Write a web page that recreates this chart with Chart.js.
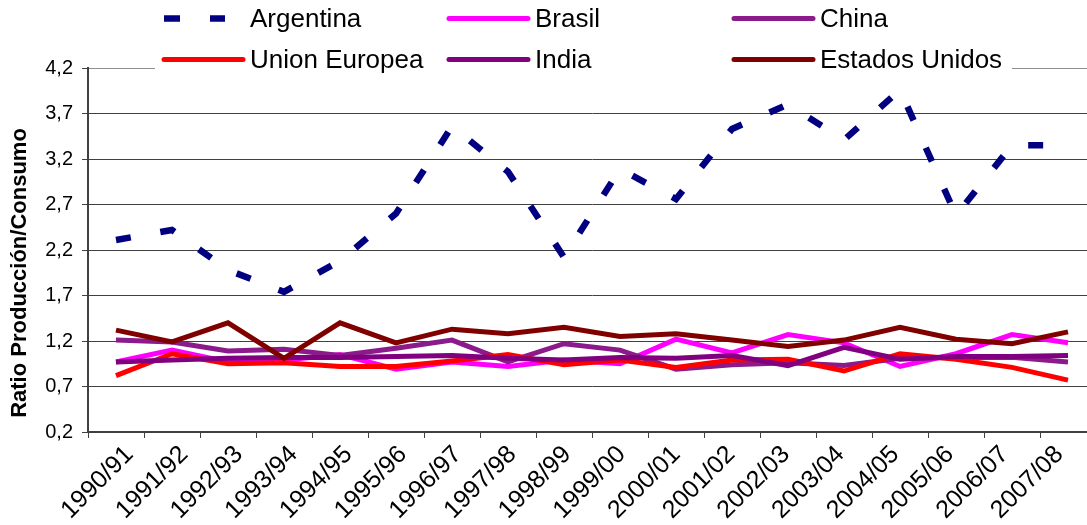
<!DOCTYPE html>
<html>
<head>
<meta charset="utf-8">
<script src="https://cdn.jsdelivr.net/npm/chart.js@4.4.1/dist/chart.umd.min.js"></script>
<style>
  html, body { margin: 0; padding: 0; background: #ffffff; overflow: hidden; }
  #wrap { width: 1110px; height: 525px; }
</style>
</head>
<body>
<div id="wrap"><canvas id="c" width="1110" height="525"></canvas></div>
<script>
// Campañas agrícolas
const campanias = ['1990/91','1991/92','1992/93','1993/94','1994/95','1995/96','1996/97','1997/98','1998/99',
                   '1999/00','2000/01','2001/02','2002/03','2003/04','2004/05','2005/06','2006/07','2007/08'];

// Ratio producción / consumo por país
const argentina     = [2.31, 2.42, 1.98, 1.74, 2.08, 2.60, 3.56, 3.06, 2.12, 3.09, 2.76, 3.53, 3.80, 3.41, 3.96, 2.58, 3.35, 3.35];
const brasil        = [0.97, 1.10, 0.97, 0.99, 1.05, 0.89, 0.97, 0.92, 0.99, 0.95, 1.22, 1.07, 1.27, 1.18, 0.92, 1.06, 1.27, 1.18];
const china         = [1.21, 1.19, 1.09, 1.11, 1.04, 1.12, 1.21, 0.97, 1.17, 1.10, 0.89, 0.94, 0.96, 0.93, 1.01, 1.02, 1.02, 0.97];
const unionEuropea  = [0.82, 1.06, 0.95, 0.96, 0.92, 0.92, 0.98, 1.05, 0.94, 0.99, 0.91, 0.99, 1.00, 0.87, 1.06, 1.00, 0.91, 0.77];
const india         = [0.97, 0.99, 1.01, 1.02, 1.02, 1.03, 1.04, 1.01, 0.99, 1.02, 1.01, 1.04, 0.93, 1.13, 1.00, 1.03, 1.03, 1.04];
const estadosUnidos = [1.32, 1.19, 1.40, 1.01, 1.40, 1.18, 1.33, 1.28, 1.35, 1.25, 1.28, 1.21, 1.14, 1.21, 1.35, 1.22, 1.17, 1.30];

// Marcas del eje vertical
const yTicks = [0.2, 0.7, 1.2, 1.7, 2.2, 2.7, 3.2, 3.7, 4.2];
const tituloY = 'Ratio Producción/Consumo';

const FONT = "'Liberation Sans', Arial, sans-serif";

function serie(label, data, color, order, extra) {
  return Object.assign({
    label, data, order,
    xAxisID: 'x',
    borderColor: color,
    backgroundColor: color,
    borderWidth: 5,
    pointRadius: 0,
    pointHoverRadius: 0,
    tension: 0,
    fill: false,
    borderJoinStyle: 'miter',
    borderCapStyle: 'butt'
  }, extra || {});
}

// Leyenda en tres columnas sobre un recuadro blanco, y título del eje vertical
const leyenda = {
  id: 'leyenda',
  afterDraw(chart) {
    const ctx = chart.ctx;
    ctx.save();
    ctx.fillStyle = '#ffffff';
    ctx.fillRect(155, 0, 857, 78);
    chart.data.datasets.forEach((ds, i) => {
      const col = i % 3, row = Math.floor(i / 3);
      const x0 = 162 + col * 285;
      const yl = 18.5 + row * 41;
      ctx.strokeStyle = ds.borderColor;
      if (ds.borderDash && ds.borderDash.length) {
        ctx.lineWidth = ds.borderWidth;
        ctx.lineCap = 'butt';
        ctx.beginPath();
        ctx.moveTo(x0 + 2, yl); ctx.lineTo(x0 + 18, yl);
        ctx.moveTo(x0 + 48, yl); ctx.lineTo(x0 + 63, yl);
        ctx.stroke();
      } else {
        ctx.lineWidth = 5;
        ctx.lineCap = 'round';
        ctx.beginPath();
        ctx.moveTo(x0 + 2, yl); ctx.lineTo(x0 + 81, yl);
        ctx.stroke();
      }
      ctx.fillStyle = '#000000';
      ctx.font = '26px ' + FONT;
      ctx.textBaseline = 'middle';
      ctx.textAlign = 'left';
      ctx.fillText(ds.label, 250 + col * 285, yl + 1.5);
    });

    ctx.translate(25.5, 273);
    ctx.rotate(-Math.PI / 2);
    ctx.font = 'bold 22px ' + FONT;
    ctx.textAlign = 'center';
    ctx.textBaseline = 'alphabetic';
    ctx.fillStyle = '#000000';
    ctx.fillText(tituloY, 0, 0);
    ctx.restore();
  }
};

const chart = new Chart(document.getElementById('c'), {
  type: 'line',
  data: {
    labels: campanias,
    datasets: [
      serie('Argentina', argentina, '#000080', 5, { borderWidth: 6.5, borderDash: [15, 30] }),
      serie('Brasil', brasil, '#FF00FF', 4),
      serie('China', china, '#8B1A8B', 3),
      serie('Union Europea', unionEuropea, '#FF0000', 2),
      serie('India', india, '#800080', 1),
      serie('Estados Unidos', estadosUnidos, '#800000', 0)
    ]
  },
  options: {
    responsive: false,
    animation: false,
    events: [],
    layout: { padding: { left: 0, right: 14, top: 68, bottom: 0 } },
    plugins: {
      legend: { display: false },
      tooltip: { enabled: false }
    },
    scales: {
      // eje de categorías: ubica los datos y dibuja las marcas entre campañas
      x: {
        type: 'category',
        position: 'bottom',
        weight: 0,
        offset: true,
        grid: {
          offset: true,
          drawOnChartArea: false,
          drawTicks: true,
          tickLength: 6,
          tickColor: '#404040',
          tickWidth: 1
        },
        border: { display: true, color: '#404040', width: 2 },
        ticks: { display: false },
        afterFit(scale) { scale.height = 6; }
      },
      // eje de rótulos de campaña, inclinados 45°
      xl: {
        type: 'linear',
        position: 'bottom',
        weight: 1,
        min: -0.76,
        max: 17.67,
        afterBuildTicks(scale) { scale.ticks = campanias.map((_, i) => ({ value: i })); },
        grid: { display: false, drawTicks: false },
        border: { display: false },
        ticks: {
          autoSkip: false,
          maxRotation: 45,
          minRotation: 45,
          padding: 2,
          color: '#000000',
          font: { family: FONT, size: 25 },
          callback: (v) => campanias[v] !== undefined ? campanias[v] : ''
        },
        afterFit(scale) { scale.height = 87; }
      },
      y: {
        min: 0.2,
        max: 4.2,
        afterBuildTicks(scale) { scale.ticks = yTicks.map(v => ({ value: v })); },
        grid: {
          color: ctx => (ctx.tick && ctx.tick.value === 4.2) ? '#909090' : '#404040',
          lineWidth: 1,
          drawTicks: true,
          tickLength: 6,
          tickColor: '#404040'
        },
        border: { display: true, color: '#404040', width: 2 },
        ticks: {
          padding: 9,
          color: '#000000',
          font: { family: FONT, size: 20 },
          callback: v => Number(v).toFixed(1).replace('.', ',')
        },
        afterFit(scale) { scale.width = 88; }
      }
    }
  },
  plugins: [leyenda]
});
</script>
</body>
</html>
